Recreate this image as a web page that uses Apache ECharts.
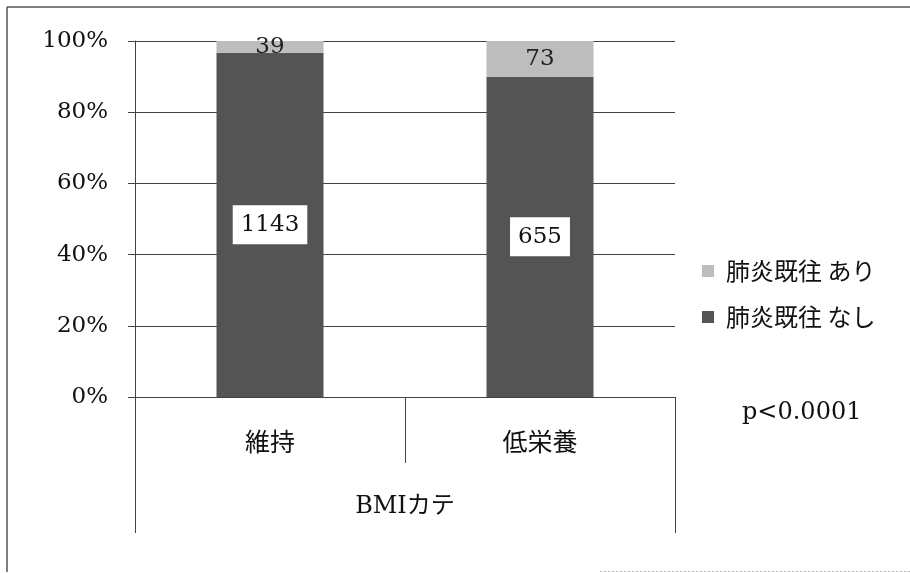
<!DOCTYPE html>
<html>
<head>
<meta charset="utf-8">
<script src="https://cdn.jsdelivr.net/npm/echarts@6/dist/echarts.min.js"></script>
<style>html,body{margin:0;padding:0;background:#fff}#c{width:910px;height:573px}</style>
</head>
<body>
<div id="c"></div>
<script>
const categories = ['維持', '低栄養'];
const groupLabel = ['BMIカテ'];
const seriesNames = ['肺炎既往 あり', '肺炎既往 なし'];
const countsAri = [39, 73];
const countsNashi = [1143, 655];
const yTicks = [0, 20, 40, 60, 80, 100];
const pValueText = 'p<0.0001';

const totals = countsAri.map((v, i) => v + countsNashi[i]);
const pctNashi = countsNashi.map((v, i) => v / totals[i] * 100);
const pctAri = countsAri.map((v, i) => v / totals[i] * 100);

const FONT = '"DejaVu Serif", "Liberation Serif", serif';
const JFONT = '"DejaVu Serif", "Noto Sans CJK JP", serif';

const chart = echarts.init(document.getElementById('c'), null, {renderer: 'canvas'});
chart.setOption({
  backgroundColor: '#fff',
  animation: false,
  grid: {left: 135, right: 235, top: 41, bottom: 176, containLabel: false},
  legend: {
    orient: 'vertical',
    left: 697,
    top: 254,
    itemWidth: 12,
    itemHeight: 12,
    itemGap: 22,
    icon: 'rect',
    data: [seriesNames[0], seriesNames[1]],
    textStyle: {fontFamily: '"Noto Sans CJK JP", sans-serif', fontSize: 24, color: '#111', padding: [0, 0, 0, 7]}
  },
  xAxis: [{
    type: 'category',
    data: categories,
    position: 'bottom',
    axisLine: {show: true, lineStyle: {color: '#444', width: 1}},
    axisTick: {show: true, length: 66, alignWithLabel: false, lineStyle: {color: '#444'}},
    axisLabel: {margin: 32, fontFamily: '"Noto Sans CJK JP", sans-serif', fontSize: 25, color: '#111'}
  }, {
    type: 'category',
    data: groupLabel,
    position: 'bottom',
    offset: 66,
    axisLine: {show: false},
    axisTick: {show: true, length: 70, lineStyle: {color: '#444'}},
    axisLabel: {margin: 32, fontFamily: JFONT, fontSize: 24, color: '#111'}
  }],
  yAxis: {
    type: 'value',
    min: 0, max: 100, interval: 20,
    axisLine: {show: true, lineStyle: {color: '#444'}},
    axisTick: {show: true, length: 7, lineStyle: {color: '#444'}},
    splitLine: {show: true, lineStyle: {color: '#444', width: 1}},
    axisLabel: {
      margin: 27, fontFamily: FONT, fontSize: 23, color: '#111',
      formatter: v => yTicks.includes(v) ? v + '%' : ''
    }
  },
  series: [{
    name: seriesNames[1],
    type: 'bar',
    stack: 's',
    barWidth: 107,
    data: pctNashi,
    itemStyle: {color: '#545454'},
    label: {
      show: true, position: 'inside',
      formatter: p => countsNashi[p.dataIndex],
      backgroundColor: '#fff',
      padding: [9, 8, 7, 8],
      fontFamily: FONT, fontSize: 23, color: '#111'
    }
  }, {
    name: seriesNames[0],
    type: 'bar',
    stack: 's',
    barWidth: 107,
    data: pctAri,
    itemStyle: {color: '#bdbdbd'},
    label: {
      show: true, position: 'inside',
      formatter: p => countsAri[p.dataIndex],
      fontFamily: FONT, fontSize: 23, color: '#222'
    }
  }],
  graphic: [
    {type: 'line', shape: {x1: 7, y1: 7, x2: 910, y2: 7}, style: {stroke: '#555', lineWidth: 1.5}, silent: true},
    {type: 'line', shape: {x1: 7, y1: 7, x2: 7, y2: 572}, style: {stroke: '#555', lineWidth: 1.5}, silent: true},
    {type: 'line', shape: {x1: 600, y1: 571.5, x2: 910, y2: 571.5}, style: {stroke: '#bbb', lineWidth: 1, lineDash: [2, 2]}, silent: true},
    {type: 'text', left: 742, top: 401, style: {text: pValueText, font: '24px "DejaVu Serif", serif', fill: '#111'}, silent: true}
  ]
});
</script>
</body>
</html>
